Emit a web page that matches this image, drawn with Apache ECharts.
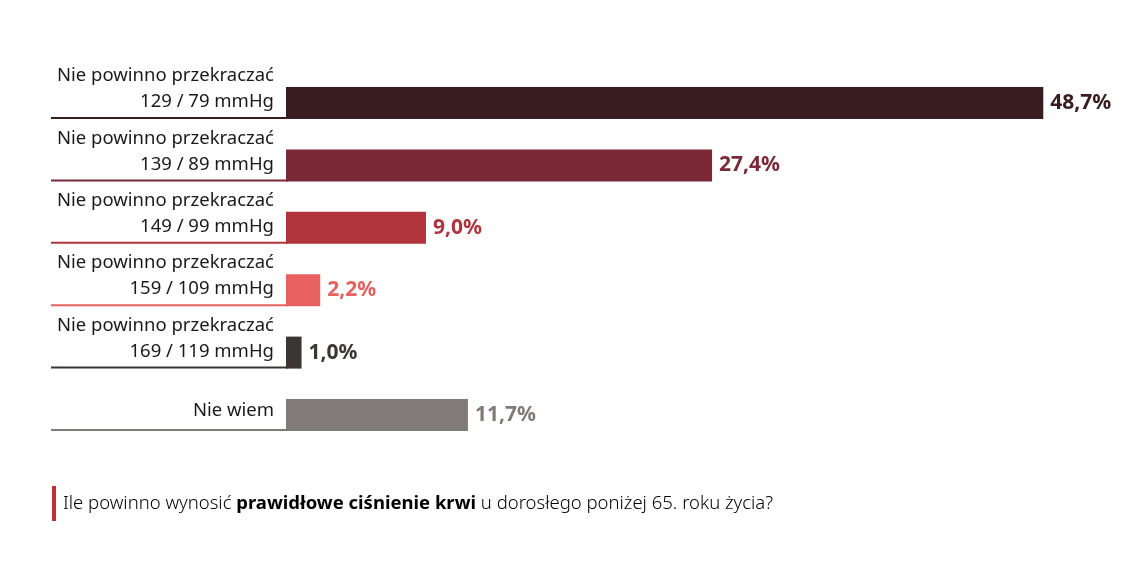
<!DOCTYPE html>
<html>
<head>
<meta charset="utf-8">
<title>Prawidłowe ciśnienie krwi</title>
<script src="https://cdn.jsdelivr.net/npm/echarts@6/dist/echarts.min.js"></script>
<style>
  html, body { margin: 0; padding: 0; background: #fff; }
  #myChart { width: 1140px; height: 569px; }
</style>
</head>
<body>
<div id="myChart"></div>
<script>
  // dane z wykresu
  var labelTop = ['Nie powinno przekraczać', 'Nie powinno przekraczać', 'Nie powinno przekraczać',
    'Nie powinno przekraczać', 'Nie powinno przekraczać', ''];
  var labelBottom = ['129 / 79 mmHg', '139 / 89 mmHg', '149 / 99 mmHg', '159 / 109 mmHg',
    '169 / 119 mmHg', 'Nie wiem'];
  var values = [48.7, 27.4, 9.0, 2.2, 1.0, 11.7];
  var colors = ['#381c1f', '#7b2837', '#b1343c', '#e8605f', '#3b3634', '#807b79'];

  var categories = labelBottom.map(function (v, i) { return 'k' + i; });

  var myChart = echarts.init(document.getElementById('myChart'));

  var barData = values.map(function (v, i) {
    return {
      value: v,
      itemStyle: {color: colors[i]},
      label: {color: colors[i]}
    };
  });

  myChart.setOption({
    animation: false,
    grid: {
      left: 286,
      right: 76.5,
      top: 71.8,
      bottom: 122.8
    },
    xAxis: {
      type: 'value',
      min: 0,
      max: 50,
      show: false
    },
    yAxis: {
      type: 'category',
      data: categories,
      inverse: true,
      show: false
    },
    series: [
      {
        // podkreślenia i opisy kategorii
        type: 'custom',
        z: 1,
        data: categories.map(function (c, i) { return [0, i]; }),
        encode: {x: 0, y: 1},
        renderItem: function (params, api) {
          var i = api.value(1);
          var p = api.coord([0, i]);
          var bottom = p[1] + 16;
          var children = [{
            type: 'line',
            shape: {x1: 51, y1: bottom - 1, x2: p[0] + 2, y2: bottom - 1},
            style: {stroke: colors[i], lineWidth: 2}
          }];
          if (labelTop[i]) {
            children.push({
              type: 'text',
              style: {
                text: labelTop[i] + '\n' + labelBottom[i],
                x: p[0] - 12,
                y: p[1] - 14,
                align: 'right',
                verticalAlign: 'middle',
                lineHeight: 26,
                font: '18.5px "Noto Sans"',
                fill: '#1a1a1a'
              }
            });
          } else {
            children.push({
              type: 'text',
              style: {
                text: labelBottom[i],
                x: p[0] - 12,
                y: p[1] - 4,
                align: 'right',
                verticalAlign: 'middle',
                font: '18.5px "Noto Sans"',
                fill: '#1a1a1a'
              }
            });
          }
          return {type: 'group', children: children};
        }
      },
      {
        type: 'bar',
        z: 2,
        barWidth: 32,
        data: barData,
        label: {
          show: true,
          position: 'right',
          distance: 7,
          fontFamily: 'Noto Sans',
          fontSize: 21,
          fontWeight: 'bold',
          formatter: function (p) {
            return p.value.toFixed(1).replace('.', ',') + '%';
          }
        }
      }
    ],
    graphic: [
      {
        type: 'rect',
        shape: {x: 52, y: 486, width: 4, height: 35},
        style: {fill: '#c0313a'}
      },
      {
        type: 'text',
        x: 63,
        y: 504,
        style: {
          text: '{n|Ile powinno wynosić }{b|prawidłowe ciśnienie krwi}{n| u dorosłego poniżej 65. roku życia?}',
          verticalAlign: 'middle',
          rich: {
            n: {fontFamily: 'Noto Sans', fontSize: 18.5, fontWeight: 300, color: '#333333'},
            b: {fontFamily: 'Noto Sans', fontSize: 18.5, fontWeight: 'bold', color: '#1a1a1a'}
          }
        }
      }
    ]
  });
</script>
</body>
</html>
